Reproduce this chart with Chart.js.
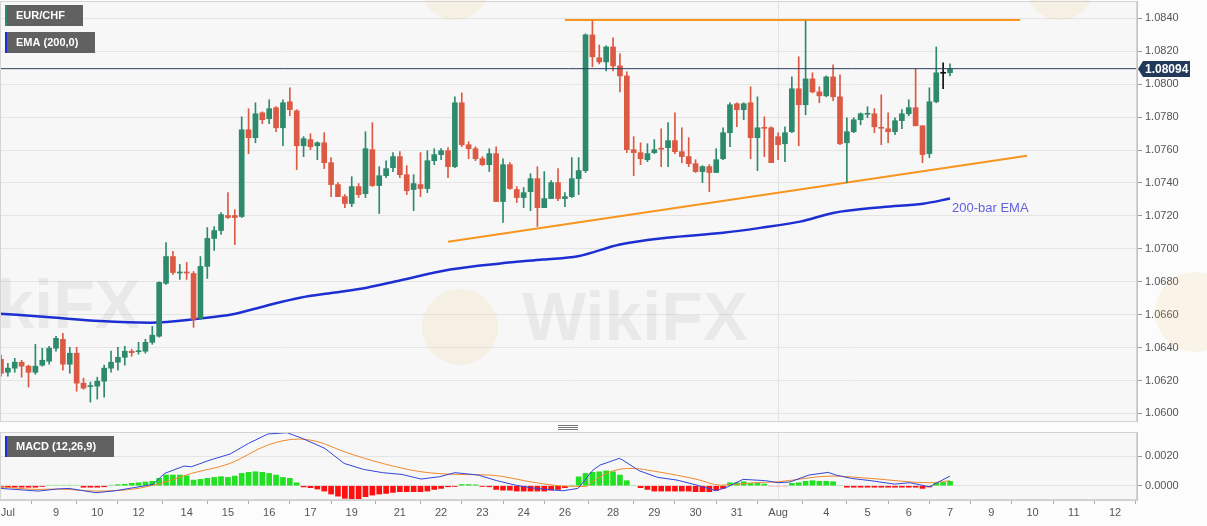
<!DOCTYPE html>
<html>
<head>
<meta charset="utf-8">
<script src="https://cdn.jsdelivr.net/npm/chart.js@4.4.0/dist/chart.umd.min.js"></script>
<style>
  html, body { margin: 0; padding: 0; background: #fcfcfc; }
  #wrap { position: relative; width: 1207px; height: 526px; overflow: hidden; }
  #main { position: absolute; left: 0; top: 0; }
  #macd { position: absolute; left: 0; top: 422px; }
</style>
</head>
<body>
<div id="wrap">
  <canvas id="main" width="1207" height="422"></canvas>
  <canvas id="macd" width="1207" height="104"></canvas>
</div>
<script>
// EUR/CHF 4H candles, one entry per bar (Jul 8 .. Aug 7)
const opens = [
  1.06329,1.06250,1.06275,1.06311,1.06287,1.06250,1.06293,1.06317,1.06396,1.06450,
  1.06299,1.06366,1.06184,1.06163,1.06166,1.06196,1.06275,1.06311,1.06341,1.06378,
  1.06375,1.06378,1.06432,1.06469,1.06790,1.06953,1.06853,1.06859,1.06850,1.06578,
  1.06893,1.07063,1.07111,1.07202,1.07202,1.07196,1.07723,1.07675,1.07826,1.07790,
  1.07857,1.07735,1.07893,1.07838,1.07626,1.07663,1.07626,1.07644,1.07523,1.07390,
  1.07317,1.07275,1.07378,1.07335,1.07602,1.07384,1.07444,1.07493,1.07560,1.07450,
  1.07360,1.07390,1.07366,1.07535,1.07572,1.07596,1.07499,1.07887,1.07632,1.07608,
  1.07547,1.07511,1.07578,1.07287,1.07511,1.07360,1.07311,1.07347,1.07426,1.07250,
  1.07305,1.07402,1.07305,1.07317,1.07426,1.07475,1.08299,1.08160,1.08135,1.08226,
  1.08111,1.08050,1.07602,1.07584,1.07541,1.07584,1.07611,1.07614,1.07657,1.07590,
  1.07560,1.07517,1.07469,1.07499,1.07463,1.07547,1.07705,1.07881,1.07845,1.07887,
  1.07675,1.07738,1.07735,1.07681,1.07638,1.07711,1.07972,1.07875,1.08032,1.07953,
  1.07929,1.08044,1.07923,1.07644,1.07711,1.07784,1.07817,1.07820,1.07738,1.07729,
  1.07711,1.07778,1.07820,1.07857,1.07747,1.07578,1.07893,1.08069,1.08069
];
const highs = [
  1.06354,1.06305,1.06335,1.06323,1.06293,1.06420,1.06396,1.06408,1.06469,1.06487,
  1.06402,1.06402,1.06214,1.06190,1.06220,1.06293,1.06378,1.06402,1.06408,1.06390,
  1.06432,1.06450,1.06529,1.06800,1.07038,1.06984,1.06905,1.06917,1.06862,1.06953,
  1.07129,1.07135,1.07220,1.07341,1.07238,1.07802,1.07851,1.07887,1.07832,1.07905,
  1.07863,1.07905,1.07978,1.07845,1.07681,1.07699,1.07650,1.07705,1.07554,1.07402,
  1.07329,1.07438,1.07396,1.07711,1.07766,1.07499,1.07535,1.07584,1.07590,1.07505,
  1.07450,1.07584,1.07596,1.07608,1.07608,1.07614,1.07923,1.07947,1.07650,1.07620,
  1.07560,1.07608,1.07620,1.07547,1.07523,1.07378,1.07372,1.07456,1.07499,1.07469,
  1.07414,1.07487,1.07341,1.07554,1.07554,1.08305,1.08384,1.08238,1.08232,1.08281,
  1.08184,1.08075,1.07681,1.07644,1.07638,1.07663,1.07729,1.07766,1.07826,1.07735,
  1.07675,1.07541,1.07505,1.07511,1.07608,1.07735,1.07887,1.07887,1.07887,1.07984,
  1.07923,1.07802,1.07741,1.07705,1.07741,1.08044,1.08166,1.08384,1.08069,1.07984,
  1.08050,1.08117,1.08057,1.07796,1.07796,1.07826,1.07863,1.07851,1.07935,1.07826,
  1.07796,1.07845,1.07905,1.08093,1.07747,1.07978,1.08226,1.08129,1.08123
];
const lows = [
  1.06226,1.06226,1.06250,1.06220,1.06160,1.06238,1.06287,1.06299,1.06378,1.06263,
  1.06244,1.06135,1.06147,1.06069,1.06087,1.06099,1.06250,1.06263,1.06293,1.06347,
  1.06360,1.06366,1.06420,1.06463,1.06784,1.06844,1.06814,1.06814,1.06523,1.06572,
  1.06820,1.06990,1.07087,1.07184,1.07026,1.07190,1.07578,1.07644,1.07760,1.07760,
  1.07711,1.07626,1.07808,1.07481,1.07560,1.07602,1.07541,1.07487,1.07317,1.07317,
  1.07250,1.07256,1.07311,1.07311,1.07378,1.07214,1.07432,1.07469,1.07432,1.07329,
  1.07232,1.07317,1.07341,1.07511,1.07541,1.07432,1.07493,1.07620,1.07547,1.07535,
  1.07505,1.07469,1.07287,1.07160,1.07360,1.07281,1.07250,1.07232,1.07135,1.07250,
  1.07305,1.07293,1.07256,1.07311,1.07329,1.07463,1.08105,1.08123,1.08081,1.08081,
  1.07953,1.07584,1.07444,1.07511,1.07529,1.07578,1.07499,1.07499,1.07578,1.07523,
  1.07499,1.07463,1.07402,1.07347,1.07463,1.07541,1.07620,1.07741,1.07784,1.07547,
  1.07475,1.07560,1.07523,1.07541,1.07529,1.07705,1.07626,1.07814,1.07947,1.07887,
  1.07923,1.07899,1.07632,1.07402,1.07705,1.07753,1.07796,1.07705,1.07632,1.07644,
  1.07693,1.07729,1.07808,1.07747,1.07523,1.07554,1.07887,1.07972,1.08050
];
const closes = [
  1.06244,1.06275,1.06311,1.06287,1.06250,1.06287,1.06323,1.06396,1.06456,1.06299,
  1.06366,1.06184,1.06154,1.06169,1.06196,1.06275,1.06311,1.06341,1.06378,1.06369,
  1.06381,1.06432,1.06475,1.06796,1.06953,1.06856,1.06859,1.06853,1.06572,1.06893,
  1.07063,1.07111,1.07208,1.07190,1.07190,1.07723,1.07675,1.07820,1.07784,1.07851,
  1.07735,1.07887,1.07845,1.07626,1.07669,1.07620,1.07644,1.07523,1.07390,1.07317,
  1.07275,1.07378,1.07329,1.07608,1.07384,1.07444,1.07487,1.07560,1.07450,1.07353,
  1.07396,1.07366,1.07535,1.07572,1.07596,1.07499,1.07887,1.07632,1.07608,1.07547,
  1.07511,1.07578,1.07287,1.07511,1.07366,1.07311,1.07341,1.07426,1.07250,1.07305,
  1.07402,1.07305,1.07317,1.07426,1.07475,1.08299,1.08166,1.08135,1.08226,1.08111,
  1.08050,1.07602,1.07584,1.07547,1.07578,1.07602,1.07605,1.07657,1.07590,1.07560,
  1.07517,1.07469,1.07499,1.07463,1.07541,1.07705,1.07875,1.07845,1.07881,1.07675,
  1.07735,1.07732,1.07523,1.07632,1.07705,1.07972,1.07875,1.08032,1.07953,1.07929,
  1.08044,1.07923,1.07638,1.07711,1.07784,1.07820,1.07823,1.07741,1.07732,1.07711,
  1.07778,1.07820,1.07857,1.07747,1.07572,1.07893,1.08069,1.08066,1.08094
];
const crossBars = [137]; // the black doji cross

// 200-bar EMA, read at bar positions
const emaIdx = [-0.15,7.1,14.4,21.7,28.9,33.7,38.7,43.5,48.3,53.2,58,65.3,72.6,78.8,83.9,90,96.8,105,110.4,116.2,121,128.3,134.1,138];
const emaVal = [1.06606,1.06584,1.06561,1.06551,1.06576,1.06602,1.06656,1.06703,1.06733,1.06764,1.06808,1.06874,1.06911,1.06935,1.06955,1.07026,1.07067,1.07097,1.07127,1.07165,1.07218,1.07254,1.07274,1.07305];

// drawn trend lines
const resistIdx = [82, 148.2];
const resistVal = [1.08390, 1.08390];
const supportIdx = [65, 149.2];
const supportVal = [1.07043, 1.07565];

// MACD (12,26,9)
const macdIdx = [0,5.4,8.2,9.9,13.8,16.6,19.3,22.1,23.8,26.6,27.7,30.4,33.3,36,38.8,41.6,43.8,47.1,49.9,52.7,55.5,58.3,61.1,63.8,66,69.4,72.1,75,77.8,81.7,83.9,86.1,87.1,89.9,90.4,92.8,95.5,98.3,101.2,104,105.7,107.9,111.2,113,114.7,117.5,120.3,121.4,123.7,126.5,129.9,132.2,135,138];
const macdVal = [-0.00018,-0.00036,-0.00022,-0.00018,-0.00047,-0.00034,-0.00013,0.00009,0.00083,0.00132,0.00128,0.00173,0.00213,0.00285,0.00348,0.00357,0.00319,0.00251,0.0015,0.0011,0.00088,0.00076,0.00045,0.00061,0.00088,0.00072,0.00034,0.00002,-0.00018,-0.00034,-0.00018,0.00106,0.00139,0.00184,0.00173,0.00101,0.00056,0.00038,0.00004,-0.00034,-0.00007,0.00043,0.00034,0.0002,0.00025,0.00072,0.0009,0.00072,0.00049,0.00034,0.00011,0.0002,-0.00007,0.00065];
const signalIdx = [0,5.4,8.2,13.8,19.3,23.2,27.7,33.3,38.8,43.2,46.1,49.9,55.5,61.1,66.6,71.1,77.8,81.7,85,86,87.1,89,91.6,95.5,101.2,104.6,109.6,113,120.8,126.5,135,138];
const signalVal = [-0.00007,-0.00025,-0.00022,-0.00036,-0.00022,0.00016,0.00083,0.0015,0.00274,0.00314,0.00296,0.00229,0.0015,0.00094,0.00076,0.00072,0.0002,-0.00002,-0.00005,0.00025,0.0006,0.001,0.00117,0.00094,0.00043,0.00004,0.0002,0.00027,0.00065,0.00049,0.0002,0.00034];
const histVal = [
  -0.0001,-0.0001,-0.0001,-0.0001,-0.0001,-0.0001,-0.00005,
  0.00004,0.00004,0.00004,0.00004,0.00004,
  -0.0001,-0.0001,-0.0001,-0.00007,
  0.00005,0.00007,0.0001,0.00016,0.0002,0.00025,0.0003,
  0.0005,0.00072,0.00072,0.00072,0.00067,0.00038,0.00043,0.0005,0.00056,0.00061,0.00056,
  0.00065,0.00083,0.0009,0.00094,0.0009,0.00083,0.00072,0.00056,0.0005,0.0002,
  -0.00008,-0.00013,-0.00022,-0.00036,-0.00056,-0.0007,-0.00085,-0.0009,-0.0009,-0.00074,
  -0.00063,-0.00056,-0.00052,-0.00045,-0.0004,-0.0004,-0.0004,-0.0004,-0.00036,-0.00025,
  -0.00018,-0.00007,-0.00005,0.00008,0.00008,0.00006,-0.00005,-0.00007,-0.00025,-0.0003,
  -0.0003,-0.00036,-0.00036,-0.00036,-0.00036,-0.00036,-0.0003,-0.00025,-0.00013,0.00005,
  0.0006,0.00083,0.0009,0.00094,0.001,0.00094,0.00072,0.00034,0,-0.00013,
  -0.00025,-0.00036,-0.00036,-0.00036,-0.00036,-0.00036,-0.00036,-0.0004,-0.0004,-0.0004,
  -0.0003,-0.00018,0.0002,0.0002,0.00027,0.00016,0.00016,0.00011,-0.00003,-0.00003,
  -0.00003,0.00016,0.0002,0.0003,0.00034,0.0003,0.0003,0.00027,0,-0.0001,
  -0.0001,-0.0001,-0.0001,-0.0001,-0.0001,-0.0001,-0.0001,-0.0001,-0.0001,-0.0001,
  -0.00018,-0.00008,0.00016,0.00022,0.0003
];

// axes
const tickIdx = [1,8,14,20,27,33,39,45,51,58,64,70,76,82,89,95,101,107,113,120,126,132,138,144,150,156,162];
const tickLabels = ['Jul','9','10','12','14','15','16','17','19','21','22','23','24','26','28','29','30','31','Aug','4','5','6','7','9','10','11','12'];
const monthIdx = 113;
const priceTicks = [1.0600,1.0620,1.0640,1.0660,1.0680,1.0700,1.0720,1.0740,1.0760,1.0780,1.0800,1.0820,1.0840];
const macdTicks = [0, 0.0020];

const xMin = -0.145, xMax = 165.19;
const FONT = '"Liberation Sans", Arial, sans-serif';
const lastClose = closes[closes.length - 1];

Chart.defaults.font.family = FONT;

const up = '#2e8a6d', down = '#dc5a43';
const candleColor = closes.map((c, i) => crossBars.includes(i) ? '#111111' : (c >= opens[i] ? up : down));
const pts = (xs, ys) => xs.map((x, k) => ({ x: x, y: ys[k] }));

// keep the plot area edge to edge: no room reserved for end labels
function flatPad(s) { s.paddingTop = 0; s.paddingBottom = 0; }

// panel background, border and the month line
const panel = {
  id: 'panel',
  beforeDraw(chart) {
    const { ctx, chartArea: a } = chart;
    ctx.save();
    ctx.fillStyle = '#f7f7f7';
    ctx.fillRect(a.left, a.top, a.right - a.left, a.bottom - a.top);
    ctx.restore();
  },
  beforeDatasetsDraw(chart) {
    const { ctx, chartArea: a } = chart;
    const x = Math.round(chart.scales.x.getPixelForValue(monthIdx)) + 0.5;
    ctx.save();
    ctx.strokeStyle = '#e2e2e2';
    ctx.lineWidth = 1;
    ctx.beginPath(); ctx.moveTo(x, a.top); ctx.lineTo(x, a.bottom); ctx.stroke();
    ctx.restore();
  },
  afterDraw(chart) {
    const { ctx, chartArea: a } = chart;
    ctx.save();
    ctx.strokeStyle = '#d3d3d3';
    ctx.lineWidth = 1;
    ctx.strokeRect(a.left + 0.5, a.top + 0.5, a.right - a.left - 1, a.bottom - a.top - 1);
    ctx.restore();
  }
};

function tagBox(ctx, x, y, w, h, accent, text) {
  ctx.fillStyle = '#616161';
  ctx.fillRect(x, y, w, h);
  ctx.fillStyle = accent;
  ctx.fillRect(x, y, 2, h);
  ctx.fillStyle = '#ffffff';
  ctx.font = 'bold 11px ' + FONT;
  ctx.textBaseline = 'middle';
  ctx.fillText(text, x + 11, y + h / 2 + 0.5);
}

// watermark, labels, price tag
const mainDeco = {
  id: 'mainDeco',
  beforeDatasetsDraw(chart) {
    const ctx = chart.ctx;
    ctx.save();
    ctx.fillStyle = 'rgba(235,195,90,0.13)';
    [[460, 327, 38], [455, -14, 34], [1060, -14, 34], [1195, 312, 40]].forEach(c => {
      ctx.beginPath(); ctx.arc(c[0], c[1], c[2], 0, Math.PI * 2); ctx.fill();
    });
    ctx.fillStyle = 'rgba(0,0,0,0.055)';
    ctx.font = 'bold 68px ' + FONT;
    ctx.textBaseline = 'alphabetic';
    ctx.fillText('WikiFX', 522, 340);
    ctx.fillText('WikiFX', -86, 328);
    ctx.restore();
  },
  afterDraw(chart) {
    const ctx = chart.ctx;
    const ys = chart.scales.y, xs = chart.scales.x;
    ctx.save();
    tagBox(ctx, 5, 5, 78, 21, '#2e8a6d', 'EUR/CHF');
    tagBox(ctx, 5, 32, 90, 21, '#1a2fd6', 'EMA (200,0)');

    // EMA caption at the end of the line
    const ex = xs.getPixelForValue(emaIdx[emaIdx.length - 1]);
    const ey = ys.getPixelForValue(emaVal[emaVal.length - 1]);
    ctx.fillStyle = '#6262e0';
    ctx.font = '13px ' + FONT;
    ctx.textBaseline = 'middle';
    ctx.fillText('200-bar EMA', ex + 2, ey + 10);

    // last price tag
    const y = Math.round(ys.getPixelForValue(lastClose));
    const x0 = chart.chartArea.right + 1;
    ctx.fillStyle = '#23395a';
    ctx.beginPath();
    ctx.moveTo(x0, y);
    ctx.lineTo(x0 + 5, y - 8);
    ctx.lineTo(x0 + 52, y - 8);
    ctx.lineTo(x0 + 52, y + 8);
    ctx.lineTo(x0 + 5, y + 8);
    ctx.closePath();
    ctx.fill();
    ctx.fillStyle = '#ffffff';
    ctx.font = 'bold 12px ' + FONT;
    ctx.fillText(lastClose.toFixed(5), x0 + 7, y + 0.5);
    ctx.restore();
  }
};

new Chart(document.getElementById('main'), {
  type: 'bar',
  data: {
    datasets: [
      {
        type: 'line', data: [{ x: xMin, y: lastClose }, { x: xMax, y: lastClose }],
        borderColor: '#2b3f5f', borderWidth: 1, pointRadius: 0, order: -1
      },
      {
        data: opens.map((o, i) => ({ x: i, y: [Math.min(o, closes[i]), Math.max(o, closes[i])] })),
        backgroundColor: candleColor, barThickness: 5, grouped: false, minBarLength: 1, order: 0
      },
      {
        data: lows.map((l, i) => ({ x: i, y: [l, highs[i]] })),
        backgroundColor: candleColor, barThickness: 1, grouped: false, order: 1
      },
      {
        type: 'line', data: pts(emaIdx, emaVal), borderColor: '#1d2fd3', borderWidth: 2.5,
        pointRadius: 0, cubicInterpolationMode: 'monotone', order: 2
      },
      {
        type: 'line', data: pts(resistIdx, resistVal), borderColor: '#f7951e', borderWidth: 2,
        pointRadius: 0, order: 3
      },
      {
        type: 'line', data: pts(supportIdx, supportVal), borderColor: '#f7951e', borderWidth: 2,
        pointRadius: 0, order: 3
      }
    ]
  },
  options: {
    responsive: false,
    animation: false,
    events: [],
    layout: { padding: { top: 1, left: 0, right: 0, bottom: 0 } },
    plugins: { legend: { display: false }, tooltip: { enabled: false } },
    scales: {
      x: { type: 'linear', min: xMin, max: xMax, offset: false, display: false },
      y: {
        position: 'right', min: 1.05948, max: 1.08505,
        afterFit(s) { s.width = 70; flatPad(s); },
        afterBuildTicks(s) { s.ticks = priceTicks.map(v => ({ value: v })); },
        ticks: { callback: v => Number(v).toFixed(4), color: '#555', font: { size: 11 }, padding: 3 },
        grid: { color: '#e4e4e4', tickLength: 5, tickColor: '#999' },
        border: { color: '#c4c4c4' }
      }
    }
  },
  plugins: [panel, mainDeco]
});

const macdDeco = {
  id: 'macdDeco',
  afterDraw(chart) {
    const ctx = chart.ctx;
    ctx.save();
    // pane resize handle
    ctx.strokeStyle = '#777';
    ctx.lineWidth = 1;
    [3.5, 5.5, 7.5].forEach(y => {
      ctx.beginPath(); ctx.moveTo(558, y); ctx.lineTo(578, y); ctx.stroke();
    });
    tagBox(ctx, 5, 14, 109, 21, '#1a2fd6', 'MACD (12,26,9)');
    ctx.restore();
  }
};

new Chart(document.getElementById('macd'), {
  type: 'bar',
  data: {
    datasets: [
      {
        type: 'line', data: pts(macdIdx, macdVal), borderColor: '#3446d8', borderWidth: 1,
        pointRadius: 0, order: 0
      },
      {
        type: 'line', data: pts(signalIdx, signalVal), borderColor: '#f08a2e', borderWidth: 1,
        pointRadius: 0, cubicInterpolationMode: 'monotone', order: 1
      },
      {
        data: histVal.map((v, i) => ({ x: i, y: v })),
        backgroundColor: histVal.map(v => v >= 0 ? (v < 0.00006 ? '#8ee88e' : '#22e022') : (v > -0.00004 ? '#f2a0a0' : '#ff1010')),
        barThickness: 5, grouped: false, order: 2
      }
    ]
  },
  options: {
    responsive: false,
    animation: false,
    events: [],
    layout: { padding: { top: 10, left: 0, right: 0, bottom: 0 } },
    plugins: { legend: { display: false }, tooltip: { enabled: false } },
    scales: {
      x: {
        type: 'linear', min: xMin, max: xMax, offset: false,
        afterBuildTicks(s) { s.ticks = tickIdx.map(v => ({ value: v })); },
        afterFit(s) { s.height = 26; s.paddingLeft = 0; s.paddingRight = 0; },
        ticks: { autoSkip: false, maxRotation: 0, callback: (v, i) => tickLabels[i], color: '#555', font: { size: 11 }, padding: 2 },
        grid: { drawOnChartArea: false, tickLength: 4, tickColor: '#aaa' },
        border: { color: '#cfcfcf' }
      },
      y: {
        position: 'right', min: -0.00096, max: 0.003616,
        afterFit(s) { s.width = 70; flatPad(s); },
        afterBuildTicks(s) { s.ticks = macdTicks.map(v => ({ value: v })); },
        ticks: { callback: v => Number(v).toFixed(4), color: '#555', font: { size: 11 }, padding: 3 },
        grid: { color: '#e4e4e4', tickLength: 5, tickColor: '#999' },
        border: { color: '#c4c4c4' }
      }
    }
  },
  plugins: [panel, macdDeco]
});
</script>
</body>
</html>
